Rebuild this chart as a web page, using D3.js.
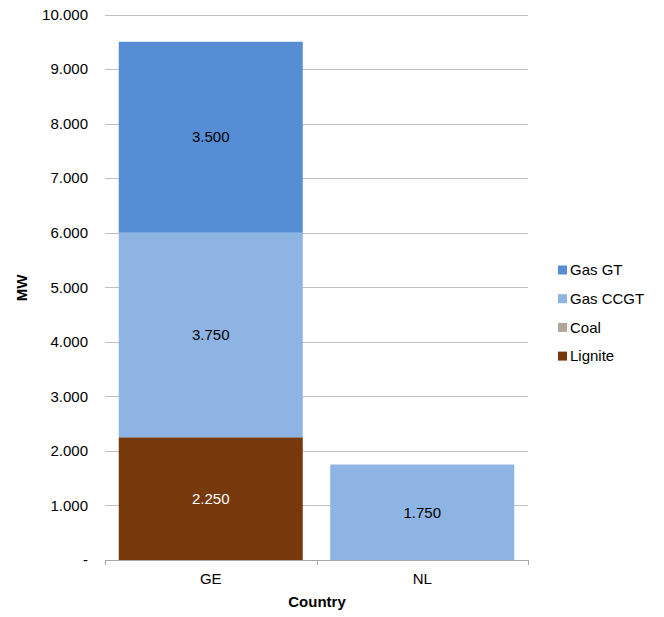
<!DOCTYPE html>
<html><head><meta charset="utf-8">
<script src="https://cdn.jsdelivr.net/npm/d3@7"></script>
<style>body{margin:0;background:#fff}text{font-family:"Liberation Sans",Arial,sans-serif}</style>
</head><body><svg id="c" width="664" height="617"></svg>
<script>
const categories = ["GE", "NL"];
const seriesNames = ["Lignite", "Coal", "Gas CCGT", "Gas GT"];
const lignite = [2250, 0];
const coal = [0, 0];
const gasCCGT = [3750, 1750];
const gasGT = [3500, 0];
const yTicks = [0, 1000, 2000, 3000, 4000, 5000, 6000, 7000, 8000, 9000, 10000];
const colors = {"Lignite": "#77380b", "Coal": "#aea796", "Gas CCGT": "#8eb4e3", "Gas GT": "#558ed5"};
const labelColors = {"Lignite": "#ffffff", "Coal": "#000000", "Gas CCGT": "#000000", "Gas GT": "#000000"};
const legendOrder = ["Gas GT", "Gas CCGT", "Coal", "Lignite"];

const values = {"Lignite": lignite, "Coal": coal, "Gas CCGT": gasCCGT, "Gas GT": gasGT};
const rows = categories.map((c, i) => {
  const r = {cat: c};
  seriesNames.forEach(s => r[s] = values[s][i]);
  return r;
});
const stacked = d3.stack().keys(seriesNames)(rows);

const FS = 15;
const svg = d3.select("#c");
const pL = 105, pR = 528, pT = 14.5, pB = 560;
const x = d3.scaleBand().domain(categories).range([pL, pR]).paddingInner(0.13).paddingOuter(0.065);
const y = d3.scaleLinear().domain([0, 10000]).range([pB, pT]);
const fmt = v => v === 0 ? "-" : d3.format(",")(v).replace(/,/g, ".");

// gridlines
svg.append("g").selectAll("line").data(yTicks.filter(t => t > 0)).join("line")
  .attr("x1", pL).attr("x2", pR)
  .attr("y1", d => Math.round(y(d)) + 0.5).attr("y2", d => Math.round(y(d)) + 0.5)
  .attr("stroke", "#c0c0c0").attr("stroke-width", 1);

// y labels
svg.append("g").selectAll("text").data(yTicks).join("text")
  .attr("x", 88).attr("y", d => y(d)).attr("dy", "0.35em")
  .attr("text-anchor", "end").attr("font-size", FS).attr("fill", "#000")
  .text(fmt);

// bars
stacked.forEach(layer => {
  svg.append("g").selectAll("rect").data(layer.filter(d => d[1] - d[0] > 0)).join("rect")
    .attr("x", d => x(d.data.cat)).attr("width", x.bandwidth())
    .attr("y", d => y(d[1])).attr("height", d => y(d[0]) - y(d[1]))
    .attr("fill", colors[layer.key]);
});
stacked.forEach(layer => {
  svg.append("g").selectAll("text").data(layer.filter(d => d[1] - d[0] > 0)).join("text")
    .attr("x", d => x(d.data.cat) + x.bandwidth() / 2)
    .attr("y", d => y((d[0] + d[1]) / 2)).attr("dy", "0.35em")
    .attr("text-anchor", "middle").attr("font-size", FS)
    .attr("fill", labelColors[layer.key])
    .text(d => fmt(d[1] - d[0]));
});

// x axis
const ax = svg.append("g");
ax.append("line").attr("x1", pL).attr("x2", pR).attr("y1", pB + 0.5).attr("y2", pB + 0.5)
  .attr("stroke", "#a6a6a6");
const bounds = [pL, pL + (pR - pL) / 2, pR];
ax.selectAll("line.t").data(bounds).join("line").attr("class", "t")
  .attr("x1", d => Math.round(d) + 0.5).attr("x2", d => Math.round(d) + 0.5)
  .attr("y1", pB).attr("y2", pB + 5).attr("stroke", "#a6a6a6");
ax.selectAll("text").data(categories).join("text")
  .attr("x", d => x(d) + x.bandwidth() / 2).attr("y", 584)
  .attr("text-anchor", "middle").attr("font-size", FS).text(d => d);

// axis titles
svg.append("text").attr("x", 317).attr("y", 607).attr("text-anchor", "middle")
  .attr("font-size", FS).attr("font-weight", "bold").text("Country");
svg.append("text").attr("transform", "translate(27,288) rotate(-90)").attr("text-anchor", "middle")
  .attr("font-size", FS).attr("font-weight", "bold").text("MW");

// legend
const lg = svg.append("g").selectAll("g").data(legendOrder).join("g")
  .attr("transform", (d, i) => `translate(558,${270 + i * 28.7})`);
lg.append("rect").attr("x", 0).attr("y", -4.5).attr("width", 9).attr("height", 9)
  .attr("fill", d => colors[d]);
lg.append("text").attr("x", 12).attr("y", 0).attr("dy", "0.35em").attr("font-size", FS).text(d => d);
</script></body></html>
